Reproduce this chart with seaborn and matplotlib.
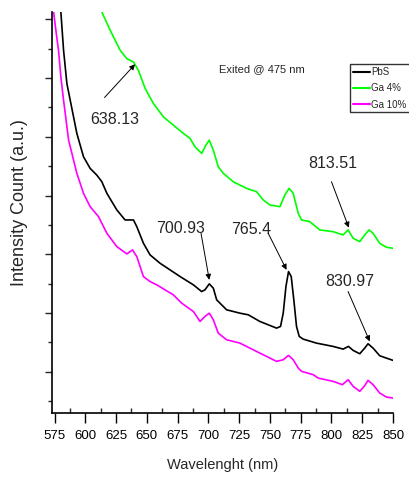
import matplotlib
matplotlib.use("Agg")
import matplotlib.pyplot as plt
import seaborn as sns
import pandas as pd
from matplotlib.ticker import MultipleLocator

# ---- data ----
pbs_wl = [578.5, 580.1, 582.3, 585.0, 587.7, 593.1, 598.5, 603.9, 609.3, 613.4, 617.5, 625.6,
          632.3, 639.1, 641.8, 647.2, 652.6, 660.7, 677.0, 687.8, 694.5, 697.2, 700.7, 704.0,
          706.7, 714.8, 725.6, 732.4, 741.8, 755.4, 758.6, 760.8, 763.0, 765.1, 767.3, 769.4,
          771.6, 773.8, 777.0, 787.8, 801.3, 809.5, 813.8, 817.6, 823.0, 827.0, 829.7, 833.8,
          839.2, 844.6, 850.0]
pbs_int = [7.66, 7.125, 6.473, 5.907, 5.623, 5.057, 4.660, 4.462, 4.348, 4.235, 4.037, 3.754,
           3.584, 3.584, 3.470, 3.187, 2.989, 2.847, 2.620, 2.479, 2.365, 2.394, 2.496, 2.422,
           2.224, 2.054, 1.997, 1.969, 1.856, 1.742, 1.771, 1.997, 2.450, 2.705, 2.620, 2.224,
           1.771, 1.601, 1.555, 1.487, 1.431, 1.385, 1.431, 1.363, 1.306, 1.402, 1.476, 1.402,
           1.272, 1.232, 1.193]

ga4_wl = [612.0, 613.4, 620.2, 628.3, 633.7, 639.1, 643.1, 648.6, 655.3, 663.4, 671.5, 679.7,
          685.1, 689.1, 694.5, 698.0, 700.7, 704.0, 708.0, 712.1, 720.2, 731.0, 739.1, 744.6,
          750.0, 758.1, 762.1, 765.6, 768.9, 773.0, 775.7, 782.4, 790.5, 801.3, 809.5, 813.5,
          817.6, 823.0, 827.0, 830.5, 833.8, 839.2, 844.6, 850.0]
ga4_int = [7.323, 7.125, 6.813, 6.473, 6.331, 6.275, 6.133, 5.822, 5.567, 5.340, 5.198, 5.057,
           4.972, 4.830, 4.717, 4.858, 4.943, 4.773, 4.490, 4.377, 4.235, 4.122, 4.065, 3.924,
           3.839, 3.810, 4.008, 4.122, 4.037, 3.697, 3.584, 3.555, 3.414, 3.385, 3.329, 3.414,
           3.272, 3.215, 3.329, 3.414, 3.357, 3.187, 3.119, 3.102]

ga10_wl = [572.8, 574.2, 576.4, 578.2, 580.1, 582.3, 586.4, 593.1, 598.5, 603.9, 610.7, 617.5,
           625.6, 633.7, 638.3, 641.8, 647.2, 652.6, 658.0, 671.5, 678.3, 687.8, 693.2, 697.2,
           700.7, 704.0, 708.0, 714.8, 725.6, 733.7, 741.8, 755.4, 760.8, 765.1, 768.9, 773.0,
           775.7, 785.2, 789.2, 801.3, 808.9, 813.5, 817.6, 823.0, 827.0, 829.7, 833.8, 839.2,
           844.6, 850.0]
ga10_int = [7.493, 7.125, 6.756, 6.473, 6.020, 5.623, 4.943, 4.377, 4.037, 3.810, 3.640, 3.357,
            3.130, 3.006, 3.074, 2.960, 2.620, 2.535, 2.479, 2.309, 2.167, 2.025, 1.856, 1.941,
            1.997, 1.884, 1.657, 1.544, 1.487, 1.402, 1.317, 1.176, 1.204, 1.278, 1.204, 1.062,
            1.006, 0.949, 0.892, 0.836, 0.779, 0.864, 0.751, 0.666, 0.762, 0.853, 0.779, 0.637,
            0.569, 0.552]

series_names = ["PbS", "Ga 4%", "Ga 10%"]
series_colors = ["#000000", "#00ff00", "#ff00ff"]

x_ticks = list(range(575, 851, 25))

# annotations: label, (text x, text y), (arrow tail), (arrow tip)
ann_labels = ["638.13", "700.93", "765.4", "813.51", "830.97"]
ann_text_xy = [(624.2, 5.300), (677.0, 3.442), (735.1, 3.414), (801.3, 4.547), (814.9, 2.535)]
ann_tail_xy = [(615.6, 5.669), (694.0, 3.357), (748.6, 3.357), (800.0, 4.235), (813.5, 2.365)]
ann_tip_xy = [(640.4, 6.235), (700.7, 2.564), (763.5, 2.734), (814.1, 3.453), (831.1, 1.516)]

note_text = "Exited @ 475 nm"
note_xy = (743.7, 6.144)

# ---- build long-form table ----
frames = []
for name, wl, it in [("PbS", pbs_wl, pbs_int), ("Ga 4%", ga4_wl, ga4_int), ("Ga 10%", ga10_wl, ga10_int)]:
    frames.append(pd.DataFrame({"Wavelength": wl, "Intensity": it, "Sample": name}))
df = pd.concat(frames, ignore_index=True)

sns.set_style("ticks")
regular = ["Liberation Sans", "DejaVu Sans"]
plt.rcParams["font.family"] = regular

fig = plt.figure(figsize=(4.09, 4.80), dpi=100)
ax = fig.add_axes([52 / 409, 1 - 413 / 480, 341 / 409, 401 / 480])

sns.lineplot(data=df, x="Wavelength", y="Intensity", hue="Sample", hue_order=series_names,
             palette=dict(zip(series_names, series_colors)), estimator=None, sort=False,
             linewidth=1.2, ax=ax, legend=False)

ax.set_xlim(572.9, 850)
ax.set_ylim(0.297, 7.125)
ax.set_xticks(x_ticks)
ax.set_xticklabels([str(t) for t in x_ticks], fontsize=9.5)
ax.xaxis.set_minor_locator(MultipleLocator(12.5))
ax.yaxis.set_major_locator(MultipleLocator(1))
ax.yaxis.set_minor_locator(MultipleLocator(0.5))
ax.set_yticklabels([])
ax.tick_params(axis="x", which="major", direction="out", length=7, width=1, pad=5, colors="black")
ax.tick_params(axis="x", which="minor", direction="in", length=3.5, width=1)
ax.tick_params(axis="y", which="major", direction="out", length=5, width=1)
ax.tick_params(axis="y", which="minor", direction="out", length=3, width=1)

for s in ["top", "right"]:
    ax.spines[s].set_visible(False)
for s in ["left", "bottom"]:
    ax.spines[s].set_linewidth(1.2)
    ax.spines[s].set_color("black")

ax.set_xlabel("Wavelenght (nm)", fontsize=10.5)
ax.xaxis.set_label_coords(0.5, -0.112)
ax.set_ylabel("Intensity Count (a.u.)", fontsize=13)
ax.yaxis.set_label_coords(-0.070, 0.524)

for lab, txy, tail, tip in zip(ann_labels, ann_text_xy, ann_tail_xy, ann_tip_xy):
    ax.text(txy[0], txy[1], lab, fontsize=11.5, ha="center", va="center")
    ax.annotate("", xy=tip, xytext=tail,
                arrowprops=dict(arrowstyle="-|>", color="black", lw=0.7,
                                mutation_scale=8, shrinkA=0, shrinkB=0))

ax.text(note_xy[0], note_xy[1], note_text, fontsize=8, ha="center", va="center")

handles = [plt.Line2D([], [], color=c, lw=1.5) for c in series_colors]
leg = ax.legend(handles, series_names, loc="upper left",
                bbox_to_anchor=(350 / 409, 1 - 64 / 480), bbox_transform=fig.transFigure,
                fontsize=7, frameon=True, fancybox=False, edgecolor="black",
                borderpad=0.3, borderaxespad=0, handlelength=1.8, handletextpad=0.1,
                labelspacing=0.65)
leg.get_frame().set_linewidth(1.0)

fig.savefig("out.png", dpi=100)
